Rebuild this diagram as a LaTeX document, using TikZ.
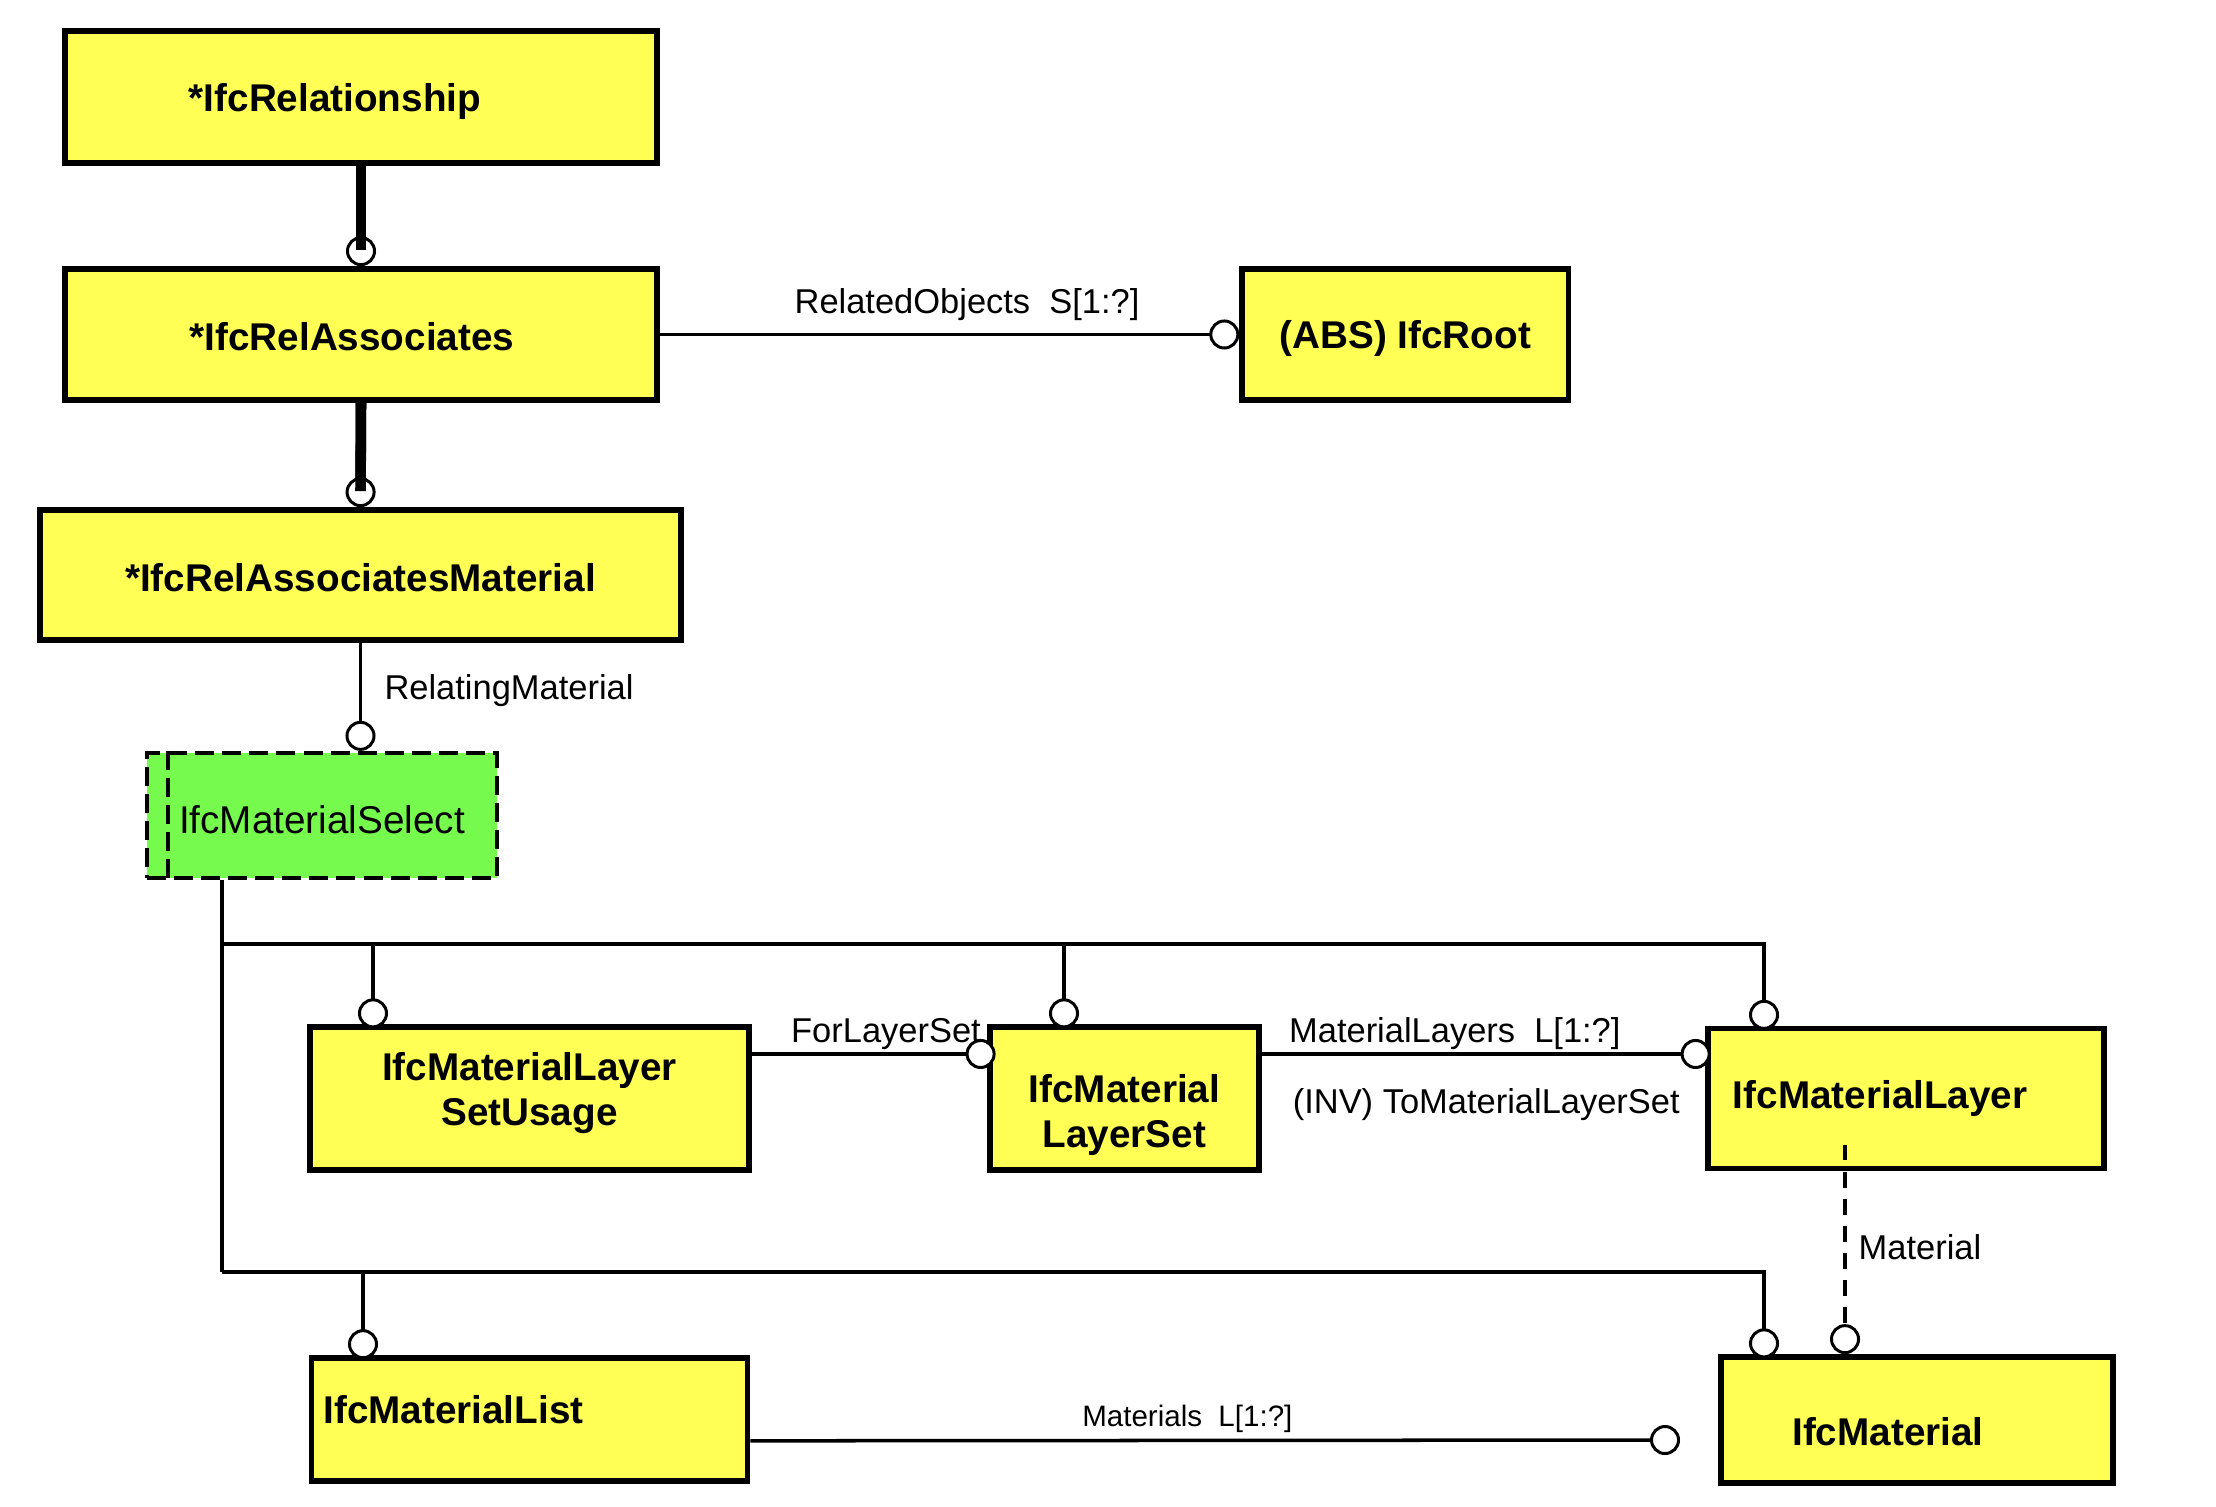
\documentclass[tikz,border=0pt]{standalone}
\usepackage{fontspec}
\setmainfont{Liberation Sans}
\usetikzlibrary{positioning}
\usetikzlibrary{arrows.meta}
\definecolor{entyellow}{RGB}{255,255,85}
\definecolor{selgreen}{RGB}{118,250,78}
\newcommand{\lowered}[2]{\raisebox{#1}[\height][\depth]{#2}}

\begin{document}
\begin{tikzpicture}[x=0.01cm, y=-0.01cm,
entity/.style={rectangle, draw=black, fill=entyellow, line width=1.6pt, inner sep=0pt, align=center, font=\fontsize{11}{12.8}\selectfont\bfseries},
selectnode/.style={rectangle, draw=black, fill=selgreen, line width=1.2pt, dash pattern=on 5.4pt off 2.3pt, font=\fontsize{11}{13}\selectfont},
supertype/.style={line width=3pt, -{Circle[length=3mm, width=3mm, fill=white, line width=0.85pt]}},
attr/.style={line width=1pt, -{Circle[length=3mm, width=3mm, fill=white, line width=0.85pt]}},
treeattr/.style={attr, shorten >=-1.2pt},
branch/.style={line width=1pt},
attrlabel/.style={font=\fontsize{9.8}{11}\selectfont},
]
\useasboundingbox (0,0) rectangle (2216,1507);

%Nodes
\node[entity, minimum width=5.92cm, minimum height=1.32cm] (rel) at (361,97) {\lowered{-1.2pt}{*IfcRelationship}\hspace*{5.2mm}};
\node[entity, minimum width=5.92cm, minimum height=1.31cm] (relassoc) at (361,334.5) {\lowered{-0.6pt}{*IfcRelAssociates}\hspace*{1.8mm}};
\node[entity, minimum width=3.26cm, minimum height=1.31cm, right=5.79cm of relassoc] (root) {\lowered{-1.2pt}{(ABS) IfcRoot}};
\node[entity, minimum width=6.41cm, minimum height=1.30cm] (relmat) at (360.5,575) {\lowered{-0.8pt}{*IfcRelAssociatesMaterial}};
\node[selectnode, minimum width=3.50cm, minimum height=1.25cm] (select) at (322,815.5) {\lowered{-1.2pt}{IfcMaterialSelect}};
\node[entity, minimum width=4.39cm, minimum height=1.43cm] (usage) at (529.5,1098.5) {\lowered{1.6pt}{IfcMaterialLayer}\\\lowered{1.6pt}{SetUsage}};
\node[entity, minimum width=2.69cm, minimum height=1.43cm, right=2.35cm of usage] (layerset) {\lowered{-4.8pt}{IfcMaterial}\\\lowered{-4.8pt}{LayerSet}};
\node[entity, minimum width=3.96cm, minimum height=1.40cm, text width=3.46cm, align=left, right=4.43cm of layerset] (layer) {IfcMaterialLayer};
\node[entity, minimum width=4.36cm, minimum height=1.23cm, text width=4.12cm, align=left, below=1.82cm of usage] (list) {\lowered{2.8pt}{IfcMaterialList}};
\node[entity, minimum width=3.92cm, minimum height=1.26cm] (material) at (1917,1420) {\lowered{-3.2pt}{IfcMaterial}\hspace*{5.8mm}};

%Junctions
\coordinate (selx) at (222,944);
\coordinate (sely) at (222,1272);
\coordinate (usagex) at (373,944);
\coordinate (setx) at (1064,944);
\coordinate (layerx) at (1764,944);
\coordinate (listx) at (363,1272);
\coordinate (matx) at (1764,1272);
\coordinate (matline) at (1845,1145);
\coordinate (matsend) at (1680,1440);

%Lines
\draw[supertype] (rel.south) -- (relassoc.north);
\draw[line width=3pt] (rel.south) -- ([yshift=1.6mm]relassoc.north);
\draw[supertype] (relassoc.south) -- (relmat.north);
\draw[line width=3pt] (relassoc.south) -- ([yshift=1.6mm]relmat.north);
\draw[attr] (relassoc.east) -- node[attrlabel, above, pos=0.53] {RelatedObjects~~S[1:?]} (root.west);
\draw[attr] (relmat.south) -- node[attrlabel, right=3pt, pos=0.44] {RelatingMaterial} (relmat.south |- select.north);
\draw[line width=1.2pt, dash pattern=on 5.4pt off 2.3pt] ([xshift=2.3mm]select.north west) -- ([xshift=2.3mm]select.south west);

\draw[branch] (select.south -| selx) -- (sely);
\draw[treeattr] (selx) -- (layerx) -- (layerx |- layer.north);
\draw[treeattr] (usagex) -- (usagex |- usage.north);
\draw[treeattr] (setx) -- (setx |- layerset.north);
\draw[treeattr] (sely) -- (matx) -- (matx |- material.north);
\draw[treeattr] (listx) -- (listx |- list.north);

\draw[attr] ([yshift=4.45mm]usage.east) -- node[attrlabel, above=-2.5pt, pos=0.55] {ForLayerSet} ([xshift=0.85mm, yshift=4.45mm]layerset.west);
\draw[attr] ([yshift=4.45mm]layerset.east) -- node[attrlabel, above=-2.5pt, pos=0.43] {MaterialLayers~~L[1:?]}
  node[attrlabel, below=6pt, pos=0.5] {(INV) ToMaterialLayerSet} ([xshift=0.55mm, yshift=4.45mm]layerset.east -| layer.west);
\draw[attr, line width=1.1pt, dash pattern=on 4.4pt off 3.3pt] (matline) -- node[attrlabel, right, pos=0.49] {Material} (matline |- material.north);
\draw[attr] ([yshift=-2.15mm]list.east) -- node[font=\fontsize{8.4}{10}\selectfont, above=-1.6pt, pos=0.47] {Materials~~L[1:?]} (matsend);
\end{tikzpicture}
\end{document}
